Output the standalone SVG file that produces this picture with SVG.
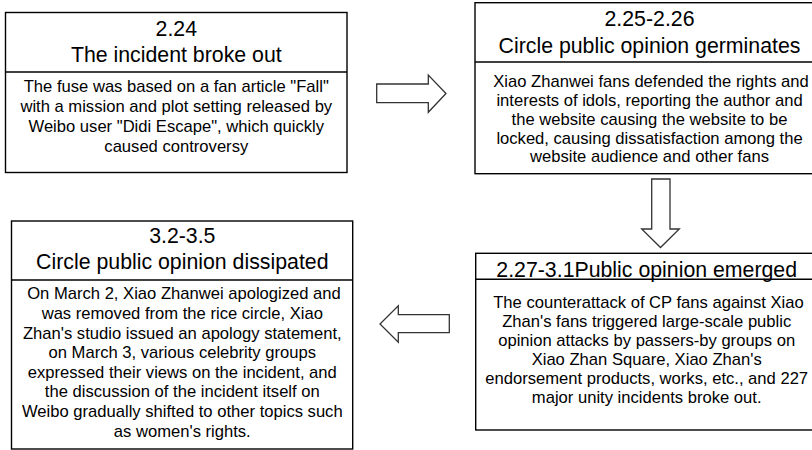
<svg xmlns="http://www.w3.org/2000/svg" width="812" height="450" viewBox="0 0 812 450">
<style>
.box{fill:#fff;stroke:#000;stroke-width:1.4}
.div{stroke:#000;stroke-width:1.4}
.arrow{fill:#fff;stroke:#333;stroke-width:1.3;stroke-linejoin:miter}
.t{font-family:"Liberation Sans",Arial,sans-serif;font-size:21.3px;fill:#000;text-anchor:middle}
.b{font-family:"Liberation Sans",Arial,sans-serif;font-size:16.6px;fill:#000;text-anchor:middle}
</style>
<rect width="812" height="450" fill="#fff"/>
<g id="node-224">
<rect class="box" x="5.5" y="12.5" width="341.5" height="160"/>
<line class="div" x1="5.5" y1="72" x2="347" y2="72"/>
<text class="t" x="176.3" y="36">2.24</text>
<text class="t" x="176.3" y="62">The incident broke out</text>
<text class="b" x="176.3" y="91.7">The fuse was based on a fan article "Fall"</text>
<text class="b" x="176.3" y="111.7">with a mission and plot setting released by</text>
<text class="b" x="176.3" y="131.7">Weibo user "Didi Escape", which quickly</text>
<text class="b" x="176.3" y="151.7">caused controversy</text>
</g>
<g id="node-225">
<rect class="box" x="475" y="2.7" width="349" height="171"/>
<line class="div" x1="475" y1="62" x2="824" y2="62"/>
<text class="t" x="649.5" y="26">2.25-2.26</text>
<text class="t" x="649.5" y="53.3">Circle public opinion germinates</text>
<text class="b" x="651" y="87.3">Xiao Zhanwei fans defended the rights and</text>
<text class="b" x="649.5" y="106.1">interests of idols, reporting the author and</text>
<text class="b" x="649.5" y="124.8">the website causing the website to be</text>
<text class="b" x="649.5" y="143.6">locked, causing dissatisfaction among the</text>
<text class="b" x="649.5" y="162.3">website audience and other fans</text>
</g>
<g id="node-227">
<rect class="box" x="475.7" y="253.3" width="342" height="176.7"/>
<line class="div" x1="475.7" y1="279.3" x2="817.7" y2="279.3"/>
<text class="t" x="646.7" y="276.5">2.27-3.1Public opinion emerged</text>
<text class="b" x="648.5" y="308.3">The counterattack of CP fans against Xiao</text>
<text class="b" x="646.7" y="327.2">Zhan's fans triggered large-scale public</text>
<text class="b" x="646.7" y="346.1">opinion attacks by passers-by groups on</text>
<text class="b" x="646.7" y="365">Xiao Zhan Square, Xiao Zhan's</text>
<text class="b" x="646.7" y="383.9">endorsement products, works, etc., and 227</text>
<text class="b" x="646.7" y="402.8">major unity incidents broke out.</text>
</g>
<g id="node-32">
<rect class="box" x="11.5" y="221" width="341.2" height="228"/>
<line class="div" x1="11.5" y1="280" x2="352.7" y2="280"/>
<text class="t" x="182.3" y="243.3">3.2-3.5</text>
<text class="t" x="182.3" y="269.3">Circle public opinion dissipated</text>
<text class="b" x="184" y="299.3">On March 2, Xiao Zhanwei apologized and</text>
<text class="b" x="182.3" y="318.9">was removed from the rice circle, Xiao</text>
<text class="b" x="182.3" y="338.5">Zhan's studio issued an apology statement,</text>
<text class="b" x="182.3" y="358.2">on March 3, various celebrity groups</text>
<text class="b" x="182.3" y="377.8">expressed their views on the incident, and</text>
<text class="b" x="182.3" y="397.4">the discussion of the incident itself on</text>
<text class="b" x="182.3" y="417">Weibo gradually shifted to other topics such</text>
<text class="b" x="182.3" y="436.7">as women's rights.</text>
</g>
<g id="connectors">
<polygon class="arrow" points="376.7,84 428.3,84 428.3,75 446,93.5 428.3,112.3 428.3,102.7 376.7,102.7"/>
<polygon class="arrow" points="651.7,179 670,179 670,229 679.3,229 660.5,247.5 641.7,229 651.7,229"/>
<polygon class="arrow" points="449.3,314.7 398.3,314.7 398.3,305.7 380,324 398.3,342.3 398.3,332.7 449.3,332.7"/>
</g>
</svg>
